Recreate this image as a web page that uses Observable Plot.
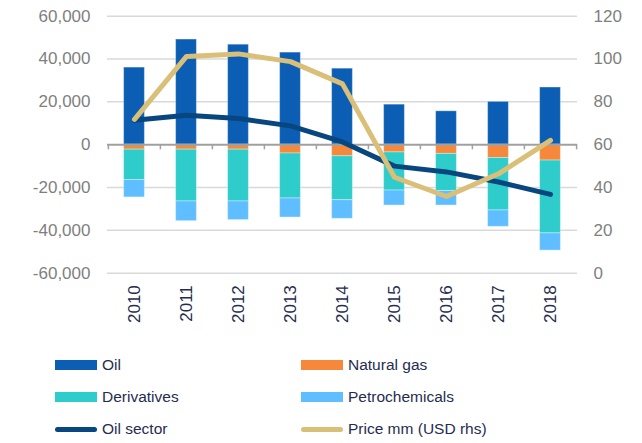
<!DOCTYPE html>
<html>
<head>
<meta charset="utf-8">
<script src="https://cdn.jsdelivr.net/npm/d3@7"></script>
<script src="https://cdn.jsdelivr.net/npm/@observablehq/plot@0.6"></script>
<style>
  body { margin: 0; background: #fff; font-family: "Liberation Sans", Arial, sans-serif; }
  #wrap { position: relative; width: 642px; height: 443px; }
  .leg { position: absolute; display: flex; align-items: center; font-size: 15.5px; color: #1f2d50; }
  .sw { width: 42px; height: 10px; margin-right: 5px; }
  .ln { width: 42px; height: 5px; border-radius: 3px; margin-right: 5px; }
</style>
</head>
<body>
<div id="wrap"></div>
<script>
const years = ["2010", "2011", "2012", "2013", "2014", "2015", "2016", "2017", "2018"];
const oil = [36000, 49100, 46700, 43000, 35500, 18700, 15600, 20000, 26700];
const naturalGas = [-2300, -2300, -2300, -4100, -5400, -3600, -4300, -6200, -7400];
const derivatives = [-14200, -24200, -24200, -21000, -20500, -17800, -17300, -24500, -34000];
const petrochemicals = [-8100, -9200, -8700, -8900, -8700, -7000, -6800, -7650, -8050];
const oilSector = [11400, 13800, 12200, 8800, 1300, -10000, -12700, -17400, -23200];
const price = [71.8, 101.2, 102.4, 98.8, 88.4, 44.8, 35.8, 46.4, 62];
const leftTicks = [-60000, -40000, -20000, 0, 20000, 40000, 60000];

const barSeries = ["Oil", "Natural gas", "Derivatives", "Petrochemicals"];
const barColors = ["#0b5eb4", "#f5883a", "#2ecdcb", "#5fbeff"];
const lineSeries = ["Oil sector", "Price mm (USD rhs)"];
const lineColors = ["#08467f", "#d9bf78"];

const barValues = [oil, naturalGas, derivatives, petrochemicals];
const bars = [];
barSeries.forEach((s, i) => years.forEach((y, j) => bars.push({year: y, series: s, value: barValues[i][j]})));
const lines = years.map((y, j) => ({year: y, sector: oilSector[j], price: price[j]}));

// price axis (0..120) mapped onto left axis (-60000..60000)
const toLeft = p => (p - 60) * 1000;

const W = 642, H = 335, mL = 107, mR = 65, mT = 15.7, mB = 62.3;
const step = (W - mL - mR) / years.length;
const barW = 21;

const chart = Plot.plot({
  width: W, height: H,
  marginLeft: mL, marginRight: mR, marginTop: mT, marginBottom: mB,
  style: {fontFamily: "'Liberation Sans', Arial, sans-serif", fontSize: "17px", background: "#fff"},
  x: {type: "band", domain: years, padding: 0, label: null},
  y: {domain: [-60000, 60000], label: null},
  color: {domain: barSeries, range: barColors},
  marks: [
    Plot.gridY(leftTicks.filter(d => d !== 0), {stroke: "#d9d9d9", strokeOpacity: 1, strokeWidth: 1.5}),
    Plot.barY(bars, Plot.stackY({x: "year", y: "value", fill: "series", z: "series", order: barSeries,
      insetLeft: (step - barW) / 2, insetRight: (step - barW) / 2,
      stroke: "#ffffff", strokeOpacity: 0.35, strokeWidth: 1})),
    Plot.ruleY([0], {stroke: "#a0a0a0", strokeWidth: 2}),
    Plot.ruleX(years, {x: d => d, dx: -step / 2, y1: 0, y2: -2400, stroke: "#a0a0a0", strokeWidth: 1.5}),
    Plot.ruleX([years[years.length - 1]], {x: d => d, dx: step / 2, y1: 0, y2: -2400, stroke: "#a0a0a0", strokeWidth: 1.5}),
    Plot.lineY(lines, {x: "year", y: "sector", stroke: lineColors[0], strokeWidth: 5, strokeLinecap: "round", strokeLinejoin: "round"}),
    Plot.lineY(lines, {x: "year", y: d => toLeft(d.price), stroke: lineColors[1], strokeWidth: 5, strokeLinecap: "round", strokeLinejoin: "round"}),
    Plot.axisY(leftTicks, {anchor: "left", tickSize: 0, tickPadding: 17, color: "#7f7f7f", tickFormat: d => d3.format(",")(d).replace("−", "-"), label: null}),
    Plot.axisY(leftTicks, {anchor: "right", tickSize: 0, tickPadding: 16, color: "#7f7f7f", tickFormat: d => String(d / 1000 + 60), label: null, textAnchor: "start"}),
    Plot.axisX({anchor: "bottom", tickSize: 0, tickPadding: 12, tickRotate: -90, color: "#1f2d50", label: null, fontSize: 17})
  ]
});

const wrap = document.getElementById("wrap");
wrap.appendChild(chart);

const legendItems = [
  {name: barSeries[0], color: barColors[0], kind: "sw", left: 55, top: 365},
  {name: barSeries[1], color: barColors[1], kind: "sw", left: 301, top: 365},
  {name: barSeries[2], color: barColors[2], kind: "sw", left: 55, top: 397},
  {name: barSeries[3], color: barColors[3], kind: "sw", left: 301, top: 397},
  {name: lineSeries[0], color: lineColors[0], kind: "ln", left: 55, top: 429},
  {name: lineSeries[1], color: lineColors[1], kind: "ln", left: 301, top: 429}
];
legendItems.forEach(it => {
  const d = document.createElement("div");
  d.className = "leg";
  d.style.left = it.left + "px";
  d.style.top = (it.top - 11) + "px";
  d.style.height = "22px";
  const s = document.createElement("span");
  s.className = it.kind;
  s.style.background = it.color;
  const t = document.createElement("span");
  t.textContent = it.name;
  d.appendChild(s); d.appendChild(t);
  wrap.appendChild(d);
});
</script>
</body>
</html>
